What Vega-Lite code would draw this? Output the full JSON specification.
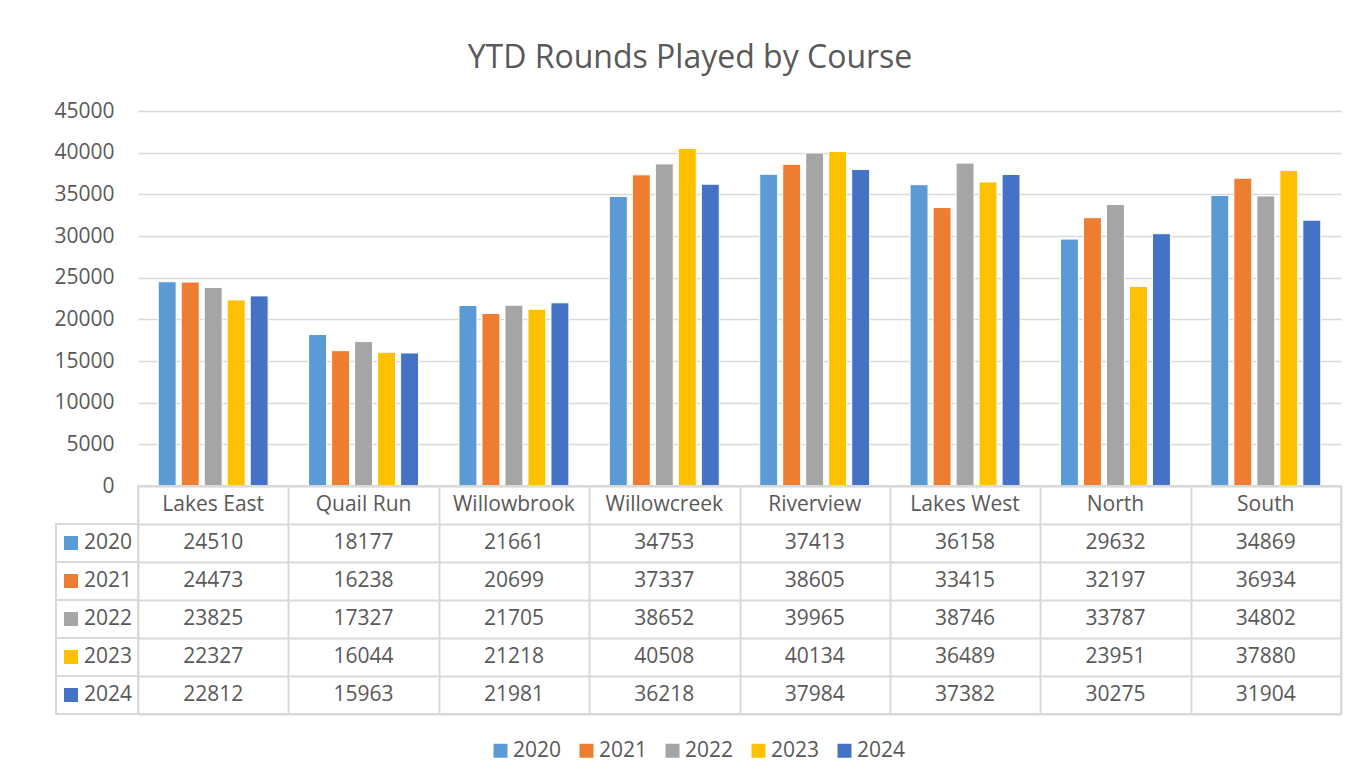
{
  "$schema": "https://vega.github.io/schema/vega-lite/v6.json",
  "background": "white",
  "padding": {"left": 53, "top": 42, "right": 10, "bottom": 10},
  "config": {
    "font": "Open Sans",
    "view": {"stroke": null},
    "concat": {"spacing": 0},
    "legend": {"layout": {"bottom": {"anchor": "middle"}}}
  },
  "title": {"text": "YTD Rounds Played by Course", "fontSize": 32, "fontWeight": "normal", "color": "#595959", "anchor": "middle", "offset": 25, "dx": -8},
  "datasets": {
    "rounds": [
      {"course": "Lakes East", "year": "2020", "value": 24510},
      {"course": "Lakes East", "year": "2021", "value": 24473},
      {"course": "Lakes East", "year": "2022", "value": 23825},
      {"course": "Lakes East", "year": "2023", "value": 22327},
      {"course": "Lakes East", "year": "2024", "value": 22812},
      {"course": "Quail Run", "year": "2020", "value": 18177},
      {"course": "Quail Run", "year": "2021", "value": 16238},
      {"course": "Quail Run", "year": "2022", "value": 17327},
      {"course": "Quail Run", "year": "2023", "value": 16044},
      {"course": "Quail Run", "year": "2024", "value": 15963},
      {"course": "Willowbrook", "year": "2020", "value": 21661},
      {"course": "Willowbrook", "year": "2021", "value": 20699},
      {"course": "Willowbrook", "year": "2022", "value": 21705},
      {"course": "Willowbrook", "year": "2023", "value": 21218},
      {"course": "Willowbrook", "year": "2024", "value": 21981},
      {"course": "Willowcreek", "year": "2020", "value": 34753},
      {"course": "Willowcreek", "year": "2021", "value": 37337},
      {"course": "Willowcreek", "year": "2022", "value": 38652},
      {"course": "Willowcreek", "year": "2023", "value": 40508},
      {"course": "Willowcreek", "year": "2024", "value": 36218},
      {"course": "Riverview", "year": "2020", "value": 37413},
      {"course": "Riverview", "year": "2021", "value": 38605},
      {"course": "Riverview", "year": "2022", "value": 39965},
      {"course": "Riverview", "year": "2023", "value": 40134},
      {"course": "Riverview", "year": "2024", "value": 37984},
      {"course": "Lakes West", "year": "2020", "value": 36158},
      {"course": "Lakes West", "year": "2021", "value": 33415},
      {"course": "Lakes West", "year": "2022", "value": 38746},
      {"course": "Lakes West", "year": "2023", "value": 36489},
      {"course": "Lakes West", "year": "2024", "value": 37382},
      {"course": "North", "year": "2020", "value": 29632},
      {"course": "North", "year": "2021", "value": 32197},
      {"course": "North", "year": "2022", "value": 33787},
      {"course": "North", "year": "2023", "value": 23951},
      {"course": "North", "year": "2024", "value": 30275},
      {"course": "South", "year": "2020", "value": 34869},
      {"course": "South", "year": "2021", "value": 36934},
      {"course": "South", "year": "2022", "value": 34802},
      {"course": "South", "year": "2023", "value": 37880},
      {"course": "South", "year": "2024", "value": 31904}
    ],
    "courses": [
      {"course": "Lakes East"}, {"course": "Quail Run"}, {"course": "Willowbrook"}, {"course": "Willowcreek"},
      {"course": "Riverview"}, {"course": "Lakes West"}, {"course": "North"}, {"course": "South"}
    ],
    "years": [
      {"year": "2020"}, {"year": "2021"}, {"year": "2022"}, {"year": "2023"}, {"year": "2024"}
    ]
  },
  "columns": 2,
  "bounds": "flush",
  "spacing": 0,
  "resolve": {"scale": {"color": "shared", "x": "independent", "y": "independent"}, "legend": {"color": "shared"}},
  "concat": [
    {
      "width": 82,
      "height": 375,
      "data": {"name": "years"},
      "mark": {"type": "text", "text": ""},
      "encoding": {}
    },
    {
      "width": 1203,
      "height": 375,
      "data": {"name": "rounds"},
      "mark": {"type": "bar", "stroke": "white", "strokeWidth": 1},
      "encoding": {
        "x": {
          "field": "course", "type": "nominal",
          "sort": ["Lakes East", "Quail Run", "Willowbrook", "Willowcreek", "Riverview", "Lakes West", "North", "South"],
          "scale": {"paddingInner": 0, "paddingOuter": 0},
          "axis": null
        },
        "xOffset": {"field": "year", "type": "nominal", "scale": {"paddingInner": 0.22, "paddingOuter": 0.88}},
        "y": {
          "field": "value", "type": "quantitative",
          "scale": {"domain": [0, 45000], "nice": false},
          "axis": {
            "values": [0, 5000, 10000, 15000, 20000, 25000, 30000, 35000, 40000, 45000],
            "format": "d", "title": null, "domain": false, "ticks": false,
            "labelFontSize": 21, "labelColor": "#595959", "labelPadding": 24,
            "gridColor": "#d9d9d9", "gridWidth": 1.5
          }
        },
        "color": {
          "field": "year", "type": "nominal",
          "scale": {"domain": ["2020", "2021", "2022", "2023", "2024"], "range": ["#5B9BD5", "#ED7D31", "#A5A5A5", "#FFC000", "#4472C4"]},
          "legend": {
            "orient": "bottom", "direction": "horizontal", "title": null,
            "symbolType": "square", "symbolSize": 196, "symbolStrokeWidth": 0,
            "labelFontSize": 21, "labelColor": "#595959", "labelOffset": 2,
            "columnPadding": 14, "offset": 25
          }
        }
      }
    },
    {
      "width": 82,
      "height": 228,
      "data": {"name": "years"},
      "layer": [
        {
          "mark": {"type": "rect", "fill": "white", "stroke": "#d9d9d9", "strokeWidth": 2},
          "encoding": {
            "y": {"field": "year", "type": "nominal", "scale": {"domain": ["Course", "2020", "2021", "2022", "2023", "2024"], "paddingInner": 0, "paddingOuter": 0}, "axis": null}
          }
        },
        {
          "mark": {"type": "point", "shape": "square", "filled": true, "size": 196, "opacity": 1, "xOffset": -26},
          "encoding": {
            "y": {"field": "year", "type": "nominal", "scale": {"domain": ["Course", "2020", "2021", "2022", "2023", "2024"], "paddingInner": 0, "paddingOuter": 0}, "axis": null},
            "color": {"field": "year", "type": "nominal"}
          }
        },
        {
          "mark": {"type": "text", "align": "left", "baseline": "middle", "dx": -13, "fontSize": 21, "color": "#595959"},
          "encoding": {
            "y": {"field": "year", "type": "nominal", "scale": {"domain": ["Course", "2020", "2021", "2022", "2023", "2024"], "paddingInner": 0, "paddingOuter": 0}, "axis": null},
            "text": {"field": "year"}
          }
        }
      ]
    },
    {
      "width": 1203,
      "height": 228,
      "view": {"stroke": "#d9d9d9", "strokeWidth": 2},
      "layer": [
        {
          "data": {"name": "rounds"},
          "mark": {"type": "text", "baseline": "middle", "fontSize": 21, "color": "#595959"},
          "encoding": {
            "x": {
              "field": "course", "type": "nominal",
              "sort": ["Lakes East", "Quail Run", "Willowbrook", "Willowcreek", "Riverview", "Lakes West", "North", "South"],
              "scale": {"domain": ["Lakes East", "Quail Run", "Willowbrook", "Willowcreek", "Riverview", "Lakes West", "North", "South"], "paddingInner": 0, "paddingOuter": 0},
              "axis": {"title": null, "labels": false, "ticks": false, "domain": false, "grid": true, "tickBand": "extent", "gridColor": "#d9d9d9", "gridWidth": 2}
            },
            "y": {
              "field": "year", "type": "nominal",
              "scale": {"domain": ["Course", "2020", "2021", "2022", "2023", "2024"], "paddingInner": 0, "paddingOuter": 0},
              "axis": {"title": null, "labels": false, "ticks": false, "domain": false, "grid": true, "tickBand": "extent", "gridColor": "#d9d9d9", "gridWidth": 2}
            },
            "text": {"field": "value", "type": "quantitative", "format": "d"}
          }
        },
        {
          "data": {"name": "courses"},
          "mark": {"type": "text", "baseline": "middle", "fontSize": 21, "color": "#595959"},
          "encoding": {
            "x": {"field": "course", "type": "nominal", "sort": ["Lakes East", "Quail Run", "Willowbrook", "Willowcreek", "Riverview", "Lakes West", "North", "South"]},
            "y": {"datum": "Course", "type": "nominal"},
            "text": {"field": "course"}
          }
        }
      ]
    }
  ]
}
